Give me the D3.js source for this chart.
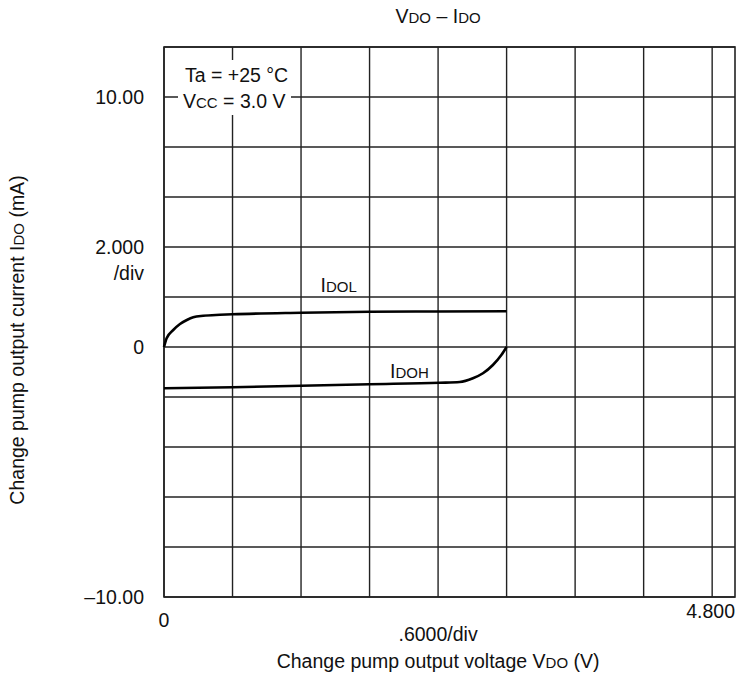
<!DOCTYPE html>
<html lang="en">
  <head>
    <meta charset="utf-8">
    <title>VDO - IDO</title>
    <script src="https://cdn.jsdelivr.net/npm/d3@7"></script>
    <style>
      body { margin: 0; background: #fff; }
      text {
        font-family: "Liberation Sans", Arial, Helvetica, sans-serif;
        font-size: 19.5px;
        fill: #111;
      }
      .sub { font-size: 15px; }
    </style>
  </head>
  <body>
    <script>

        var w = 741;
        var h = 680;

        // grid divisions (V and mA)
        var xGrid = [0, 0.6, 1.2, 1.8, 2.4, 3.0, 3.6, 4.2, 4.8];
        var yGrid = [-10, -8, -6, -4, -2, 0, 2, 4, 6, 8, 10, 12];

        // y tick labels
        var yTicks = [
          { v: 10, label: "10.00" },
          { v: 4, label: "2.000" },
          { v: 0, label: "0" },
          { v: -10, label: "\u201310.00" }
        ];

        // curves: [V, mA]
        var idol = [
          [0, 0], [0.023, 0.35], [0.081, 0.68], [0.14, 0.92], [0.2, 1.08],
          [0.256, 1.19], [0.344, 1.25], [0.49, 1.29], [0.6, 1.31],
          [1.2, 1.37], [1.8, 1.41], [2.4, 1.42], [3.0, 1.43]
        ];
        var idoh = [
          [0, -1.65], [0.6, -1.61], [1.2, -1.55], [1.8, -1.49], [2.414, -1.43],
          [2.589, -1.4], [2.705, -1.25], [2.793, -1.05], [2.88, -0.72],
          [2.954, -0.32], [3.0, 0]
        ];

        var xScale = d3.scaleLinear().domain([0, 5.0]).range([164, 735]);
        var yScale = d3.scaleLinear().domain([-10, 12]).range([597, 47]);

        var svg = d3.select("body").append("svg")
                    .attr("width", w)
                    .attr("height", h);

        // grid
        svg.append("g").selectAll("line")
           .data(xGrid)
           .enter().append("line")
           .attr("x1", function(d) { return xScale(d); })
           .attr("x2", function(d) { return xScale(d); })
           .attr("y1", yScale(12))
           .attr("y2", yScale(-10))
           .attr("stroke", "#222")
           .attr("stroke-width", 1.4);

        svg.append("g").selectAll("line")
           .data(yGrid)
           .enter().append("line")
           .attr("x1", xScale(0))
           .attr("x2", xScale(5))
           .attr("y1", function(d) { return yScale(d); })
           .attr("y2", function(d) { return yScale(d); })
           .attr("stroke", "#222")
           .attr("stroke-width", 1.4);

        // frame
        svg.append("rect")
           .attr("x", xScale(0))
           .attr("y", yScale(12))
           .attr("width", xScale(5) - xScale(0))
           .attr("height", yScale(-10) - yScale(12))
           .attr("fill", "none")
           .attr("stroke", "#222")
           .attr("stroke-width", 1.6);

        // curves
        var line = d3.line()
                     .x(function(d) { return xScale(d[0]); })
                     .y(function(d) { return yScale(d[1]); })
                     .curve(d3.curveMonotoneX);

        [idol, idoh].forEach(function(s) {
          svg.append("path")
             .datum(s)
             .attr("d", line)
             .attr("fill", "none")
             .attr("stroke", "#000")
             .attr("stroke-width", 2.6);
        });

        // helper for text with small-caps style subscript
        function label(x, y, main, sub, rest, anchor) {
          var t = svg.append("text")
                     .attr("x", x)
                     .attr("y", y)
                     .attr("text-anchor", anchor || "start");
          t.append("tspan").text(main);
          if (sub) t.append("tspan").attr("class", "sub").text(sub);
          if (rest) t.append("tspan").text(rest);
          return t;
        }

        // curve labels
        label(xScale(1.37), 292, "I", "DOL");
        label(xScale(1.98), 378, "I", "DOH");

        // conditions box
        svg.append("rect")
           .attr("x", 178).attr("y", 60)
           .attr("width", 113).attr("height", 55)
           .attr("fill", "#fff");
        label(185, 82, "Ta = +25 \u00b0C");
        label(183, 108, "V", "CC", " = 3.0 V");

        // y tick labels
        yTicks.forEach(function(d) {
          svg.append("text")
             .attr("x", 144)
             .attr("y", yScale(d.v) + 7)
             .attr("text-anchor", "end")
             .text(d.label);
        });
        svg.append("text")
           .attr("x", 144)
           .attr("y", yScale(4) + 33)
           .attr("text-anchor", "end")
           .text("/div");

        // x tick labels
        svg.append("text")
           .attr("x", xScale(0))
           .attr("y", 627)
           .attr("text-anchor", "middle")
           .text("0");
        svg.append("text")
           .attr("x", xScale(5))
           .attr("y", 618)
           .attr("text-anchor", "end")
           .text("4.800");
        svg.append("text")
           .attr("x", xScale(2.4))
           .attr("y", 641)
           .attr("text-anchor", "middle")
           .text(".6000/div");

        // titles
        label(xScale(2.4), 23, "V", "DO", " \u2013 I", "middle").append("tspan").attr("class", "sub").text("DO");
        label(xScale(2.4), 668, "Change pump output voltage V", "DO", " (V)", "middle");

        var yt = svg.append("text")
                    .attr("transform", "translate(24," + yScale(0.28) + ") rotate(-90)")
                    .attr("text-anchor", "middle");
        yt.append("tspan").text("Change pump output current I");
        yt.append("tspan").attr("class", "sub").text("DO");
        yt.append("tspan").text(" (mA)");

    </script>
  </body>
</html>
